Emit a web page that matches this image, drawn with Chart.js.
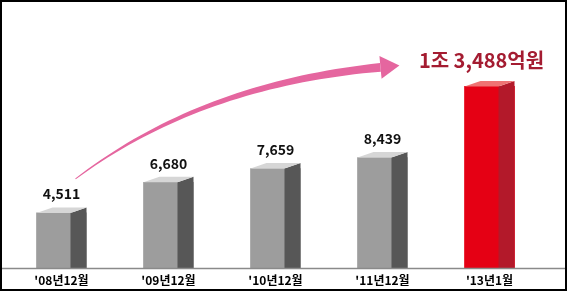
<!DOCTYPE html>
<html>
<head>
<meta charset="utf-8">
<script src="https://cdn.jsdelivr.net/npm/chart.js@4"></script>
<style>
  html, body { margin: 0; padding: 0; background: #fff; }
  #wrap { width: 567px; height: 291px; }
</style>
</head>
<body>
<div id="wrap"><canvas id="chart" width="567" height="291"></canvas></div>
<script>
// 데이터
const categories = ["'08년12월", "'09년12월", "'10년12월", "'11년12월", "'13년1월"];
const values = [4511, 6680, 7659, 8439, 13488];
const valueLabels = ["4,511", "6,680", "7,659", "8,439", "1조 3,488억원"];
const yMin = 600;
const yMax = 16000;

const FONT = "'Noto Sans CJK KR', 'Noto Sans', sans-serif";
const grayFace = { front: "#9d9d9d", side: "#575757", top: "#d6d6d6" };
const redFace = { front: "#e50014", side: "#b3192a", top: "#ef7373" };
const faces = values.map((v, i) => (i === values.length - 1 ? redFace : grayFace));

// 3D 막대 + 주석
const cubePlugin = {
  id: "cube",
  afterDatasetsDraw(chart) {
    const ctx = chart.ctx;
    const meta = chart.getDatasetMeta(0);
    const xScale = chart.scales.x;
    const dx = 16, dy = 5.5;
    const area = chart.chartArea;

    ctx.save();
    meta.data.forEach((bar, i) => {
      const p = bar.getProps(["x", "y", "base", "width"], true);
      const left = p.x - p.width / 2;
      const fr = left + p.width - dx;
      const f = faces[i];
      // 옆면
      ctx.fillStyle = f.side;
      ctx.beginPath();
      ctx.moveTo(fr, p.y);
      ctx.lineTo(fr + dx, p.y - dy);
      ctx.lineTo(fr + dx, p.base);
      ctx.lineTo(fr, p.base);
      ctx.closePath();
      ctx.fill();
      // 윗면
      ctx.fillStyle = f.top;
      ctx.beginPath();
      ctx.moveTo(left, p.y);
      ctx.lineTo(fr, p.y);
      ctx.lineTo(fr + dx, p.y - dy);
      ctx.lineTo(left + dx, p.y - dy);
      ctx.closePath();
      ctx.fill();

      // 값 라벨
      ctx.textAlign = "center";
      ctx.textBaseline = "middle";
      if (i < values.length - 1) {
        ctx.fillStyle = "#111";
        ctx.font = "bold 14px " + FONT;
        ctx.fillText(valueLabels[i], p.x, p.y - 19);
      } else {
        ctx.fillStyle = "#a41c31";
        ctx.font = "bold 20px " + FONT;
        ctx.fillText(valueLabels[i], p.x - 8, p.y - 26);
      }
    });

    // 바닥선
    ctx.strokeStyle = "#8a8a8a";
    ctx.lineWidth = 1.5;
    ctx.beginPath();
    ctx.moveTo(2, area.bottom + 0.5);
    ctx.lineTo(565, area.bottom + 0.5);
    ctx.stroke();

    // 카테고리 라벨
    ctx.fillStyle = "#000";
    ctx.font = "bold 12px " + FONT;
    ctx.textAlign = "center";
    ctx.textBaseline = "middle";
    categories.forEach((c, i) => {
      ctx.fillText(c, xScale.getPixelForValue(i), area.bottom + 12);
    });

    // 증가 화살표
    const first = meta.data[0].getProps(["x", "y"], true);
    const last = meta.data[meta.data.length - 1].getProps(["x", "y"], true);
    const P0 = { x: first.x + 14, y: first.y - 34 };
    const P2 = { x: last.x - 109, y: last.y - 19 };
    const C = { x: P0.x + 125, y: P2.y + 17 };
    const pt = (t) => ({
      x: (1 - t) * (1 - t) * P0.x + 2 * (1 - t) * t * C.x + t * t * P2.x,
      y: (1 - t) * (1 - t) * P0.y + 2 * (1 - t) * t * C.y + t * t * P2.y,
    });
    const tan = (t) => {
      const x = 2 * (1 - t) * (C.x - P0.x) + 2 * t * (P2.x - C.x);
      const y = 2 * (1 - t) * (C.y - P0.y) + 2 * t * (P2.y - C.y);
      const l = Math.hypot(x, y);
      return { x: x / l, y: y / l };
    };
    const upper = [], lower = [];
    const N = 40;
    for (let k = 0; k <= N; k++) {
      const t = k / N;
      const q = pt(t), d = tan(t);
      const w = 0.5 + 3.8 * t;
      upper.push({ x: q.x - d.y * w, y: q.y + d.x * w });
      lower.push({ x: q.x + d.y * w, y: q.y - d.x * w });
    }
    ctx.fillStyle = "#e5669f";
    ctx.beginPath();
    ctx.moveTo(upper[0].x, upper[0].y);
    upper.forEach((q) => ctx.lineTo(q.x, q.y));
    for (let k = lower.length - 1; k >= 0; k--) ctx.lineTo(lower[k].x, lower[k].y);
    ctx.closePath();
    ctx.fill();
    const d = tan(1);
    const tip = { x: P2.x + d.x * 19, y: P2.y + d.y * 19 };
    ctx.beginPath();
    ctx.moveTo(tip.x, tip.y);
    ctx.lineTo(P2.x - d.y * 11.5, P2.y + d.x * 11.5);
    ctx.lineTo(P2.x + d.y * 11.5, P2.y - d.x * 11.5);
    ctx.closePath();
    ctx.fill();

    // 테두리
    ctx.strokeStyle = "#000";
    ctx.lineWidth = 2;
    ctx.strokeRect(1, 1, 565, 289);
    ctx.restore();
  },
};

new Chart(document.getElementById("chart"), {
  type: "bar",
  data: {
    labels: categories,
    datasets: [
      {
        data: values,
        base: yMin,
        backgroundColor: faces.map((f) => f.front),
        borderWidth: 0,
        barThickness: 50,
      },
    ],
  },
  options: {
    responsive: false,
    animation: false,
    layout: { padding: { left: 8, right: 24, top: 51, bottom: 23 } },
    plugins: { legend: { display: false }, tooltip: { enabled: false } },
    scales: {
      x: { display: false },
      y: { display: false, min: yMin, max: yMax },
    },
  },
  plugins: [cubePlugin],
});
</script>
</body>
</html>
